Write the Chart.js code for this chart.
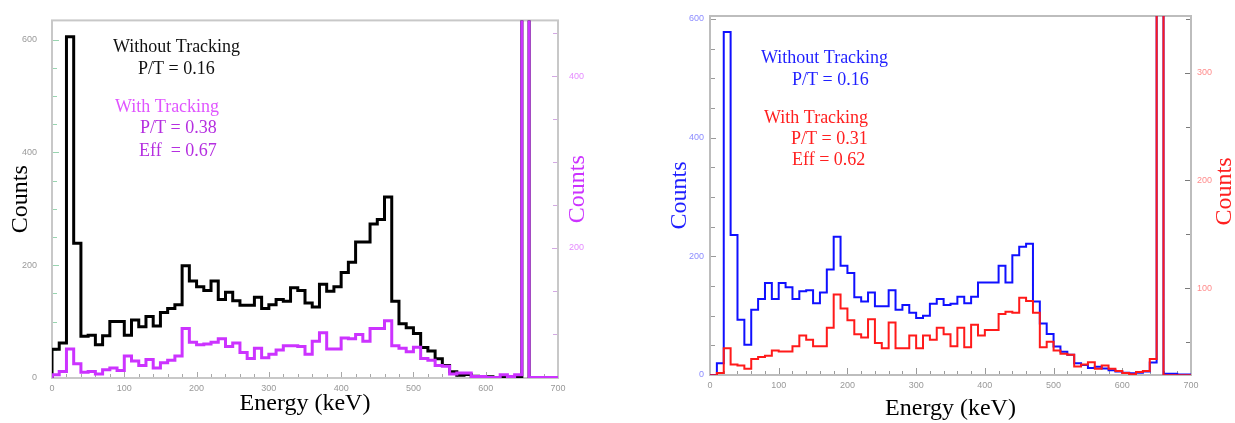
<!DOCTYPE html>
<html>
<head>
<meta charset="utf-8">
<script src="https://cdn.jsdelivr.net/npm/chart.js@4.4.1/dist/chart.umd.min.js"></script>
<style>
	html, body { margin: 0; padding: 0; background: #fff; }
	#wrap { position: relative; width: 1235px; height: 423px; overflow: hidden; }
	canvas { position: absolute; top: 0; }
	#left { left: 0; }
	#right { left: 620px; }
</style>
</head>
<body>
<div id="wrap">
	<canvas id="left" width="610" height="423"></canvas>
	<canvas id="right" width="615" height="423"></canvas>
</div>
<script>
// 10 keV bins, 0 - 700 keV
const binWidth = 10;
const binStarts = Array.from({ length: 70 }, (_, i) => i * binWidth);

// left panel
const leftWithout = [
	51, 62, 605, 239, 74, 76, 59, 75, 100, 100,
	76, 103, 91, 109, 92, 116, 123, 130, 199, 172,
	162, 155, 172, 139, 152, 137, 129, 129, 143, 123,
	130, 139, 136, 160, 155, 133, 126, 166, 154, 162,
	187, 205, 241, 241, 273, 281, 321, 136, 96, 89,
	79, 54, 48, 34, 22, 11, 5, 6, 3, 2,
	2, 1, 1, 0, 1, 1500, 0, 0, 0, 0
];
const leftWith = [
	52, 56, 82, 65, 55, 56, 53, 58, 60, 57,
	74, 68, 63, 70, 60, 66, 69, 74, 106, 90,
	87, 88, 90, 94, 85, 89, 78, 71, 83, 72,
	76, 81, 86, 86, 85, 76, 91, 101, 82, 82,
	95, 94, 99, 91, 106, 106, 115, 86, 83, 79,
	84, 71, 69, 63, 62, 53, 54, 54, 50, 50,
	49, 49, 52, 50, 52, 1000, 49, 49, 49, 49
];

// right panel
const rightWithout = [
	0, 20, 578, 236, 93, 51, 110, 128, 155, 128,
	155, 148, 128, 141, 143, 121, 139, 178, 233, 184,
	172, 131, 124, 139, 116, 116, 143, 110, 118, 105,
	96, 100, 120, 128, 118, 120, 132, 121, 132, 156,
	156, 156, 184, 156, 202, 216, 221, 124, 87, 69,
	48, 39, 34, 20, 17, 12, 14, 11, 8, 6,
	4, 3, 4, 6, 21, 1400, 2, 2, 1, 1
];
const rightWith = [
	19, 21, 44, 29, 28, 25, 34, 36, 37, 42,
	41, 41, 46, 56, 52, 46, 46, 63, 94, 81,
	70, 57, 54, 71, 49, 44, 68, 44, 44, 56,
	44, 56, 52, 63, 57, 46, 63, 45, 66, 56,
	61, 61, 76, 78, 77, 91, 88, 77, 45, 50,
	42, 39, 38, 27, 29, 31, 25, 28, 25, 23,
	21, 20, 22, 23, 34, 870, 19, 19, 19, 19
];

// tick labels
const energyLabels = [0, 100, 200, 300, 400, 500, 600, 700];
const leftCountLabels = [0, 200, 400, 600];
const leftTrackLabels = [200, 400];
const rightCountLabels = [0, 200, 400, 600];
const rightTrackLabels = [100, 200, 300];

const leftNotes = [
	{ text: 'Without Tracking', x: 113, y: 52, color: '#111' },
	{ text: 'P/T = 0.16', x: 138, y: 74, color: '#111' },
	{ text: 'With Tracking', x: 115, y: 112, color: '#e055ff' },
	{ text: 'P/T = 0.38', x: 140, y: 133, color: '#b52fe0' },
	{ text: 'Eff  = 0.67', x: 139, y: 156, color: '#b52fe0' }
];
const rightNotes = [
	{ text: 'Without Tracking', x: 141, y: 63, color: '#1f1fff' },
	{ text: 'P/T = 0.16', x: 172, y: 85, color: '#1f1fff' },
	{ text: 'With Tracking', x: 144, y: 123, color: '#ff2020' },
	{ text: 'P/T = 0.31', x: 171, y: 144, color: '#ff2020' },
	{ text: 'Eff = 0.62', x: 172, y: 165, color: '#ff2020' }
];

const SERIF = '"Liberation Serif", "Times New Roman", serif';
const SANS = '"Liberation Sans", Arial, sans-serif';

function outline(values) {
	const pts = [{ x: binStarts[0], y: 0 }];
	values.forEach((v, i) => pts.push({ x: binStarts[i], y: v }));
	pts.push({ x: binStarts[values.length - 1] + binWidth, y: values[values.length - 1] });
	return pts;
}

function labelIf(list) {
	return v => (list.includes(v) ? String(v) : '');
}

// frame + inward tick marks + right titles + text notes
const framePlugin = {
	id: 'frame',
	beforeDatasetsDraw(chart, args, opts) {
		const { ctx, chartArea: a } = chart;
		ctx.save();
		Object.keys(opts.ticks).forEach(id => {
			const s = chart.scales[id];
			const t = opts.ticks[id];
			ctx.strokeStyle = t.color;
			ctx.lineWidth = 1;
			s.ticks.forEach(tk => {
				const r = tk.value / t.step;
				if (Math.abs(r - Math.round(r)) > 1e-6) return;
				const len = tk.label !== '' ? t.major : t.minor;
				const p = Math.round(s.getPixelForValue(tk.value)) + 0.5;
				ctx.beginPath();
				if (s.axis === 'x') {
					ctx.moveTo(p, a.bottom);
					ctx.lineTo(p, a.bottom - len);
				} else if (s.position === 'left') {
					ctx.moveTo(a.left, p);
					ctx.lineTo(a.left + len, p);
				} else {
					ctx.moveTo(a.right, p);
					ctx.lineTo(a.right - len, p);
				}
				ctx.stroke();
			});
		});
		ctx.strokeStyle = opts.color;
		ctx.lineWidth = opts.width;
		ctx.strokeRect(a.left, a.top, a.width, a.height);
		ctx.restore();
	},
	afterDraw(chart, args, opts) {
		const { ctx, chartArea: a } = chart;
		const rt = opts.rightTitle;
		ctx.save();
		ctx.translate(rt.x, (a.top + a.bottom) / 2 + rt.dy);
		ctx.rotate(-Math.PI / 2);
		ctx.font = '24px ' + SERIF;
		ctx.fillStyle = rt.color;
		ctx.textAlign = 'center';
		ctx.textBaseline = 'middle';
		ctx.fillText(rt.text, 0, 0);
		ctx.restore();

		ctx.save();
		ctx.font = '18px ' + SERIF;
		ctx.textAlign = 'left';
		ctx.textBaseline = 'alphabetic';
		opts.notes.forEach(n => {
			ctx.fillStyle = n.color;
			ctx.fillText(n.text, n.x, n.y);
		});
		ctx.restore();
	}
};

function makeChart(el, cfg) {
	return new Chart(document.getElementById(el), {
		type: 'line',
		data: {
			datasets: cfg.series.map(s => ({
				data: outline(s.values),
				yAxisID: s.axis,
				borderColor: s.color,
				borderWidth: s.width,
				stepped: true,
				pointRadius: 0,
				fill: false,
				tension: 0
			}))
		},
		options: {
			responsive: false,
			animation: false,
			devicePixelRatio: 1,
			layout: { padding: { top: cfg.top, left: 0, right: 0, bottom: 0 } },
			plugins: {
				legend: { display: false },
				tooltip: { enabled: false },
				frame: {
					color: cfg.frameColor,
					width: 2,
					ticks: cfg.tickMarks,
					rightTitle: cfg.rightTitle,
					notes: cfg.notes
				}
			},
			scales: {
				x: {
					type: 'linear',
					min: 0,
					max: 700,
					afterFit: s => { s.height = cfg.xHeight; },
					grid: { display: false, drawTicks: false },
					border: { display: false },
					ticks: {
						stepSize: 20,
						autoSkip: false,
						maxRotation: 0,
						padding: 5,
						color: '#999',
						font: { family: SANS, size: 9 },
						callback: labelIf(energyLabels)
					},
					title: {
						display: true,
						text: 'Energy (keV)',
						color: '#000',
						font: { family: SERIF, size: 24 },
						padding: { top: 0, bottom: cfg.xTitlePad }
					}
				},
				y: {
					type: 'linear',
					position: 'left',
					min: 0,
					max: cfg.yMax,
					afterFit: s => { s.width = cfg.yWidth; },
					grid: { display: false, drawTicks: false },
					border: { display: false },
					ticks: {
						stepSize: 50,
						includeBounds: false,
						autoSkip: false,
						padding: cfg.yPad,
						color: cfg.yLabelColor,
						font: { family: SANS, size: 9 },
						callback: labelIf(cfg.yLabels)
					},
					title: {
						display: true,
						text: 'Counts',
						color: cfg.yTitleColor,
						font: { family: SERIF, size: 24 },
						padding: { top: cfg.yTitlePad, bottom: 0 }
					}
				},
				y2: {
					type: 'linear',
					position: 'right',
					min: cfg.y2Min,
					max: cfg.y2Max,
					afterFit: s => { s.width = cfg.y2Width; },
					grid: { display: false, drawTicks: false },
					border: { display: false },
					ticks: {
						stepSize: 50,
						includeBounds: false,
						autoSkip: false,
						padding: cfg.y2Pad,
						color: cfg.y2LabelColor,
						font: { family: SANS, size: 9 },
						callback: labelIf(cfg.y2Labels)
					}
				}
			}
		},
		plugins: [framePlugin]
	});
}

makeChart('left', {
	series: [
		{ values: leftWith, axis: 'y2', color: '#cc33ff', width: 3 },
		{ values: leftWithout, axis: 'y', color: '#000000', width: 3 }
	],
	top: 7,
	xHeight: 45,
	xTitlePad: 5,
	yMax: 634,
	yWidth: 52,
	yPad: 15,
	yLabels: leftCountLabels,
	yLabelColor: '#9a9a9a',
	yTitleColor: '#000',
	yTitlePad: 6,
	y2Min: 48.3,
	y2Max: 465,
	y2Width: 52,
	y2Pad: 11,
	y2Labels: leftTrackLabels,
	y2LabelColor: '#e58cff',
	frameColor: '#c8c8c8',
	tickMarks: {
		x: { color: '#a8a8a8', step: 20, major: 6, minor: 4 },
		y: { color: '#98d4b0', step: 50, major: 7, minor: 5 },
		y2: { color: '#d3a8e3', step: 50, major: 6, minor: 5 }
	},
	rightTitle: { text: 'Counts', x: 578, dy: -10, color: '#cc33ff' },
	notes: leftNotes
});

makeChart('right', {
	series: [
		{ values: rightWith, axis: 'y2', color: '#ff1a1a', width: 2 },
		{ values: rightWithout, axis: 'y', color: '#1010ff', width: 2 }
	],
	top: 16,
	xHeight: 48,
	xTitlePad: 0,
	yMax: 605,
	yWidth: 90,
	yPad: 6,
	yLabels: rightCountLabels,
	yLabelColor: '#8c8cff',
	yTitleColor: '#1f1fff',
	yTitlePad: 45,
	y2Min: 19.2,
	y2Max: 352.8,
	y2Width: 44,
	y2Pad: 6,
	y2Labels: rightTrackLabels,
	y2LabelColor: '#ff8c8c',
	frameColor: '#bdbdbd',
	tickMarks: {
		x: { color: '#9a9a9a', step: 20, major: 7, minor: 4 },
		y: { color: '#9a9a9a', step: 50, major: 6, minor: 5 },
		y2: { color: '#7a7a7a', step: 50, major: 6, minor: 5 }
	},
	rightTitle: { text: 'Counts', x: 605, dy: -4, color: '#ff2020' },
	notes: rightNotes
});
</script>
</body>
</html>
